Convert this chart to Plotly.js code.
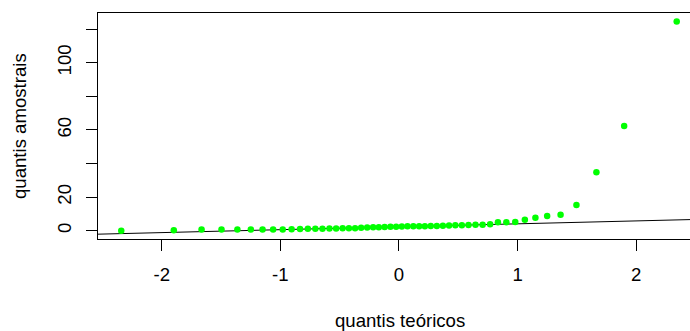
<!DOCTYPE html>
<html>
<head>
<meta charset="utf-8">
<script src="https://cdn.plot.ly/plotly-3.0.1.min.js"></script>
<style>html,body{margin:0;padding:0;background:#fff;}#chart{width:690px;height:331px;}</style>
</head>
<body>
<div id="chart"></div>
<script>
// Theoretical normal quantiles (x) (n = 52 points)
var theoreticalQuantiles = [
  -2.341, -1.898, -1.664, -1.496, -1.362, -1.249, -1.150, -1.061, -0.980, -0.905,
  -0.834, -0.768, -0.705, -0.645, -0.586, -0.530, -0.475, -0.422, -0.370, -0.319,
  -0.268, -0.218, -0.170, -0.121, -0.072, -0.024,
   0.024,  0.072,  0.121,  0.170,  0.218,  0.268,  0.319,  0.370,  0.422,  0.475,
   0.530,  0.586,  0.645,  0.705,  0.768,  0.834,  0.905,  0.980,  1.061,  1.150,
   1.249,  1.362,  1.496,  1.664,  1.898,  2.341
];
// Sample quantiles (y), sorted
var sampleQuantiles = [
  0.0, 0.2, 0.7, 0.7, 0.7, 0.7, 0.7, 0.7, 0.7, 0.8,
  1.0, 1.1, 1.1, 1.2, 1.3, 1.3, 1.4, 1.4, 1.5, 1.8,
  1.9, 2.0, 2.1, 2.2, 2.3, 2.4,
  2.5, 2.6, 2.6, 2.7, 2.7, 2.8, 2.8, 3.0, 3.1, 3.2,
  3.3, 3.4, 3.5, 3.6, 3.8, 5.0, 5.1, 5.2, 6.5, 7.7,
  8.7, 9.5, 15.3, 34.8, 62.3, 124.6
];
var xTickValues = [-2, -1, 0, 1, 2];
var xTickLabels = ['-2', '-1', '0', '1', '2'];
var yTickValues = [0, 20, 40, 60, 80, 100, 120];
var yTickLabels = ['0', '20', '', '60', '', '100', ''];

var xTitle = 'quantis teóricos';
var yTitle = 'quantis amostrais';

var xRange = [-2.537, 2.453];
var yRange = [-4.94, 129.6];

// qqline: passes through first and third quartiles (R quantile type 7)
function quantile7(arr, p) {
  var s = arr.slice().sort(function(a, b) { return a - b; });
  var h = (s.length - 1) * p;
  var lo = Math.floor(h);
  return s[lo] + (h - lo) * ((s[lo + 1] !== undefined ? s[lo + 1] : s[lo]) - s[lo]);
}
var q1 = quantile7(sampleQuantiles, 0.25), q3 = quantile7(sampleQuantiles, 0.75);
var z = 0.6744897501960817;
var slope = (q3 - q1) / (2 * z);
var intercept = q1 + slope * z;

var font = 'Liberation Sans, Arial, sans-serif';
var fs = 18.6;

var traces = [
  {
    x: xRange,
    y: [intercept + slope * xRange[0], intercept + slope * xRange[1]],
    mode: 'lines',
    line: {color: '#000000', width: 1},
    hoverinfo: 'skip',
    showlegend: false
  },
  {
    x: theoreticalQuantiles,
    y: sampleQuantiles,
    mode: 'markers',
    marker: {color: '#00ff00', size: 6.5, line: {width: 0}},
    showlegend: false
  }
];

var layout = {
  width: 690,
  height: 331,
  margin: {l: 98, r: 0, t: 13, b: 92, pad: 0},
  paper_bgcolor: '#ffffff',
  plot_bgcolor: '#ffffff',
  font: {family: font, size: fs, color: '#000000'},
  showlegend: false,
  xaxis: {
    range: xRange,
    showgrid: false,
    zeroline: false,
    showline: true,
    mirror: true,
    linecolor: '#000000',
    linewidth: 1,
    ticks: 'outside',
    ticklen: 11,
    tickwidth: 1,
    tickcolor: '#000000',
    tickvals: xTickValues,
    ticktext: xTickLabels,
    tickfont: {family: font, size: fs, color: '#000000'},
    ticklabelstandoff: 8
  },
  yaxis: {
    range: yRange,
    showgrid: false,
    zeroline: false,
    showline: true,
    mirror: false,
    linecolor: '#000000',
    linewidth: 1,
    ticks: 'outside',
    ticklen: 11,
    tickwidth: 1,
    tickcolor: '#000000',
    tickvals: yTickValues,
    ticktext: yTickLabels,
    tickangle: -90,
    tickfont: {family: font, size: fs, color: '#000000'},
    ticklabelstandoff: 8
  },
  annotations: [
    {
      text: xTitle,
      xref: 'paper', yref: 'paper',
      x: (400 - 98) / 592, y: -0.36,
      xanchor: 'center', yanchor: 'middle',
      showarrow: false,
      font: {family: font, size: fs, color: '#000000'}
    },
    {
      text: yTitle,
      xref: 'paper', yref: 'paper',
      x: (19 - 98) / 592, y: 0.5,
      xanchor: 'center', yanchor: 'middle',
      textangle: -90,
      showarrow: false,
      font: {family: font, size: fs, color: '#000000'}
    }
  ]
};

Plotly.newPlot('chart', traces, layout, {staticPlot: true, displayModeBar: false});
</script>
</body>
</html>
